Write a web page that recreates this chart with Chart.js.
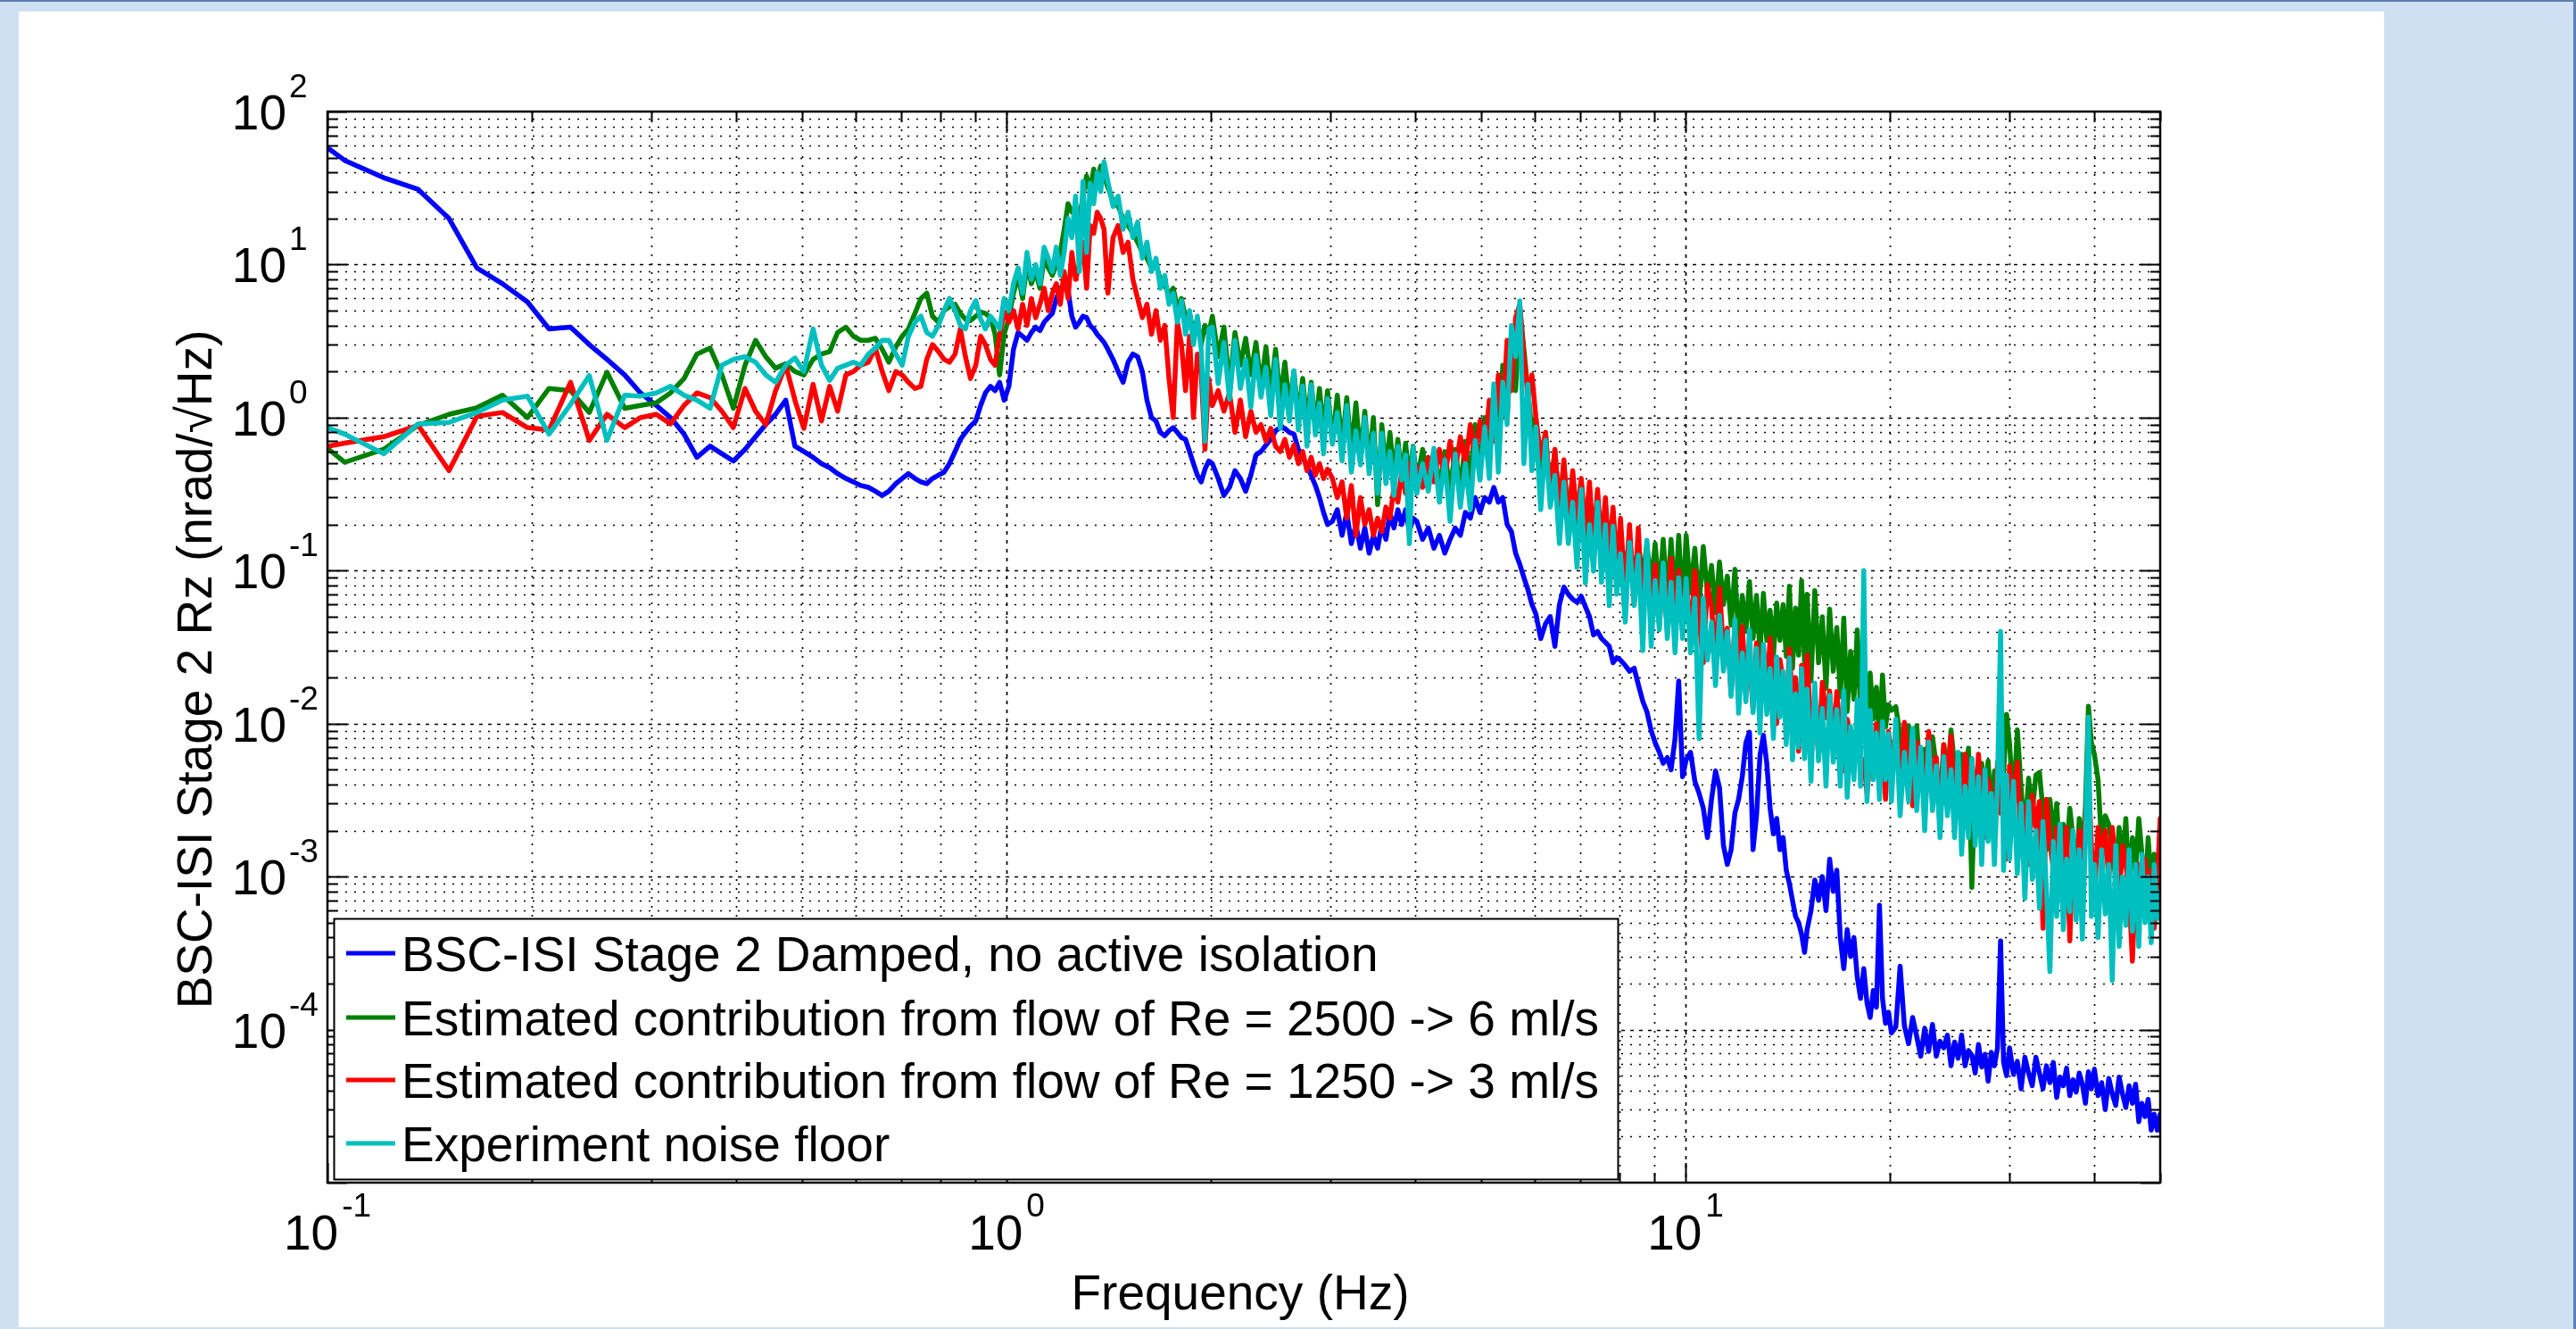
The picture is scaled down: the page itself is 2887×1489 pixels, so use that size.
<!DOCTYPE html>
<html><head><meta charset="utf-8">
<script src="https://cdn.jsdelivr.net/npm/chart.js@4.4.1/dist/chart.umd.min.js"></script>
<style>
html,body{margin:0;padding:0;}
body{width:2887px;height:1489px;background:#cfe0f2;position:relative;overflow:hidden;}
#frame{position:absolute;left:0;top:0;width:2887px;height:1489px;border-top:2px solid #5b80b4;border-right:3px solid #5b80b4;box-sizing:border-box;}
#panel{position:absolute;left:21px;top:13px;width:2651px;height:1474px;background:#fff;}
#c{position:absolute;left:0;top:0;}
</style></head><body>
<div id="frame"></div><div id="panel"></div>
<canvas id="c" width="2887" height="1489"></canvas>
<script>
// ---------------- DATA ----------------
const seriesLabels = [
  'BSC-ISI Stage 2 Damped, no active isolation',
  'Estimated contribution from flow of Re = 2500 -> 6 ml/s',
  'Estimated contribution from flow of Re = 1250 -> 3 ml/s',
  'Experiment noise floor'
];
const xTitle = 'Frequency (Hz)';
const yTitle = 'BSC-ISI Stage 2 Rz (nrad/\u221AHz)';
const xLabelExponents = [-1, 0, 1];
const yLabelExponents = [2, 1, 0, -1, -2, -3, -4];
const xLimits = [0.1, 50];
const yLimits = [1e-5, 100];

const freqLow = [0.100,0.106,0.121,0.136,0.151,0.166,0.181,0.197,0.212,0.228,
0.243,0.258,0.274,0.289,0.305,0.320,0.335,0.350,0.366,0.381,
0.396,0.412,0.427,0.442,0.457,0.473,0.488,0.503,0.519,0.534,
0.549,0.564,0.580,0.595,0.610,0.626,0.641,0.656,0.671,0.687,
0.702,0.717,0.733,0.748,0.763,0.778,0.794,0.809,0.824,0.840,
0.855,0.870,0.885,0.901,0.916,0.931,0.947,0.962,0.977,0.992];
const freqMid = [1.008,1.024,1.040,1.056,1.072,1.088,1.104,1.120,1.136,1.152,1.168,1.184,1.200,1.216,1.232,1.248,1.264,1.280,1.296,1.312,1.328,1.344,1.360,1.376,1.392,
1.410,1.435,1.460,1.485,1.510,1.535,1.560,1.585,1.610,1.635,1.660,1.685,1.710,1.735,1.760,1.785,1.810,1.835,1.860,1.885,1.910,1.935,1.960,1.985,
2.01,2.05,2.09,2.13,2.17,2.21,2.25,2.29,2.33,2.37,2.41,2.45,2.49,2.53,2.57,2.61,2.65,2.69,2.73,2.77,2.81,2.85,2.89,2.93,2.97,
3.02,3.07,3.12,3.17,3.22,3.27,3.32,3.37,3.42,3.47,3.52,3.57,3.62,3.67,3.72,3.77,3.82,3.87,3.92,3.97,
4.02,4.10,4.18,4.26,4.34,4.42,4.50,4.58,4.66,4.74,4.82,4.90,4.98,5.06,5.14,5.22,5.30,5.38,5.46,5.54,5.62,5.70,5.78,5.86,5.94,
6.02,6.12,6.22,6.32,6.42,6.52,6.62,6.72,6.82,6.92,7.02,7.12,7.22,7.32,7.42,7.52,7.62,7.72,7.82,7.92,
8.02,8.15,8.27,8.40,8.52,8.65,8.77,8.90,9.02,9.15,9.27,9.40,9.52,9.65,9.77,9.90];
const freqHigh = [10.02,10.17,10.32,10.47,10.62,10.77,10.92,11.07,11.22,11.37,11.52,11.67,11.82,11.97,12.12,12.27,12.42,12.57,12.72,12.87,13.02,13.17,13.32,13.47,13.62,13.77,13.92,14.07,14.22,14.37,14.52,14.67,14.82,14.97,
15.1,15.3,15.5,15.7,15.9,16.1,16.3,16.5,16.7,16.9,17.1,17.3,17.5,17.7,17.9,18.1,18.3,18.5,18.7,18.9,19.1,19.3,19.5,19.7,19.9,
20.1,20.4,20.7,21.0,21.3,21.6,21.9,22.2,22.5,22.8,23.1,23.4,23.7,24.0,24.3,24.6,24.9,25.2,25.5,25.8,26.1,26.4,26.7,27.0,27.3,27.6,27.9,28.2,28.5,28.8,29.1,29.4,29.7,
30.0,30.4,30.8,31.2,31.6,32.0,32.4,32.8,33.2,33.6,34.0,34.4,34.8,35.2,35.6,36.0,36.4,36.8,37.2,37.6,38.0,38.4,38.8,39.2,39.6,
40.0,40.5,41.0,41.5,42.0,42.5,43.0,43.5,44.0,44.5,45.0,45.5,46.0,46.5,47.0,47.5,48.0,48.5,49.0,49.5,50.0];

// Blue: BSC-ISI Stage 2 damped
const blueLow = [58,48,37,31,20,9.5,7.5,5.7,3.8,3.9,
3.0,2.4,1.9,1.45,1.2,1.0,0.78,0.55,0.65,0.58,
0.52,0.62,0.75,0.9,1.05,1.3,0.65,0.6,0.55,0.5,
0.47,0.43,0.4,0.38,0.36,0.35,0.33,0.31,0.33,0.37,
0.4,0.43,0.4,0.38,0.37,0.4,0.42,0.44,0.5,0.6,
0.72,0.8,0.88,0.95,1.2,1.45,1.6,1.5,1.7,1.3];
const blueMid = [1.6,2.8,3.6,3.4,3.2,3.6,3.9,3.7,4.2,4.5,4.8,6.0,7.0,7.4,6.8,4.6,3.9,4.2,4.6,4.5,4.0,3.8,3.5,3.3,3.1,
2.8,2.4,2.0,1.7,2.3,2.6,2.5,2.0,1.3,1.0,0.95,0.8,0.76,0.82,0.86,0.8,0.74,0.72,0.6,0.5,0.42,0.38,0.46,0.52,
0.5,0.4,0.31,0.35,0.45,0.4,0.33,0.42,0.57,0.6,0.66,0.72,0.82,0.86,0.85,0.8,0.78,0.62,0.55,0.48,0.42,0.36,0.3,0.24,0.2,
0.21,0.25,0.17,0.24,0.15,0.2,0.14,0.19,0.13,0.17,0.14,0.2,0.16,0.24,0.19,0.25,0.2,0.25,0.18,0.22,
0.21,0.16,0.19,0.14,0.17,0.13,0.16,0.19,0.17,0.24,0.22,0.3,0.24,0.3,0.28,0.35,0.28,0.3,0.2,0.18,0.13,0.11,0.09,0.075,0.06,
0.052,0.036,0.045,0.05,0.032,0.06,0.078,0.07,0.065,0.062,0.068,0.058,0.05,0.038,0.04,0.036,0.034,0.032,0.025,0.027,
0.026,0.024,0.022,0.023,0.018,0.014,0.012,0.009,0.0075,0.0065,0.0055,0.006,0.005,0.008,0.019,0.0045];
const blueHigh = [0.0058,0.0065,0.0042,0.0035,0.0028,0.0018,0.0032,0.0049,0.0038,0.0016,0.0012,0.0015,0.0026,0.0032,0.0045,0.0075,0.0088,0.0015,0.0025,0.0062,0.0084,0.0055,0.0028,0.0019,0.0024,0.0015,0.0018,0.0011,0.0009,0.0007,0.00055,0.0005,0.00042,0.00032,
0.00045,0.0006,0.00095,0.0007,0.001,0.0006,0.0013,0.0008,0.0011,0.0004,0.00025,0.00045,0.0003,0.0004,0.00022,0.00016,0.00025,0.00015,0.00012,0.00018,0.00014,0.00065,0.00016,0.00011,0.00013,
0.000095,0.000104,0.00026,0.000106,0.000081,0.00012,0.00009,0.000067,0.000102,0.000072,0.000108,0.000067,0.000084,0.000076,0.000092,0.000058,0.000083,0.000065,0.000092,0.000058,0.000073,0.000068,0.000052,0.00008,0.000057,0.000069,0.000046,0.000071,0.000058,0.000076,0.00038,0.000061,0.00005,
0.000076,0.000051,0.000062,0.000041,0.000066,0.000052,0.000043,0.000066,0.000052,0.000041,0.000058,0.000045,0.000061,0.000036,0.000049,0.000043,0.000056,0.000037,0.000047,0.000039,0.000052,0.000044,0.000033,0.000053,0.000041,
0.000055,0.000037,0.000045,0.00003,0.000048,0.000038,0.000032,0.000049,0.000038,0.000031,0.000043,0.000033,0.000044,0.000025,0.000033,0.000027,0.000035,0.000022,0.000028,0.000022,0.000028];

// Green: Re = 2500
const greenLow = [0.63,0.51,0.62,0.89,1.05,1.16,1.4,1.0,1.55,1.5,
1.08,1.98,1.15,1.2,1.25,1.45,1.8,2.6,2.85,1.9,
1.15,2.2,3.2,2.5,2.1,2.25,2.0,1.9,2.4,2.6,
2.7,3.6,3.9,3.4,3.2,3.2,3.3,2.8,2.3,2.9,
3.4,3.8,4.8,6.0,6.5,4.6,4.2,5.0,5.3,5.5,
4.8,4.4,4.3,4.6,4.9,4.8,4.5,3.5,1.9,3.5];
const greenMid = [4.5,6.5,8.5,6.0,10,7.5,9.0,7.0,11,9.5,8.5,10,12,17,25,22,23,20,28,38,30,42,36,44,38,
32,26,24,20,18,16,14,12,11,9.5,10,8,7.2,6.5,7.0,5.2,6.0,4.5,4.8,3.6,4.4,3.0,4.0,3.5,
4.6,2.5,3.9,1.6,3.6,2.2,3.3,1.9,3.1,1.6,2.9,1.4,2.8,1.3,2.3,1.2,2.0,1.0,1.8,0.9,1.7,0.85,1.55,0.8,1.5,
0.7,1.4,0.65,1.35,0.6,1.25,0.55,1.1,0.5,1.0,0.27,0.9,0.45,0.8,0.42,0.72,0.4,0.68,0.38,0.65,
0.38,0.62,0.36,0.6,0.35,0.6,0.33,0.62,0.34,0.7,0.4,0.9,0.45,1.0,0.5,1.4,0.6,2.2,1.0,3.4,1.5,5.2,2.8,1.5,0.8,
1.0,0.4,0.8,0.3,0.62,0.25,0.5,0.2,0.42,0.18,0.38,0.16,0.33,0.14,0.3,0.13,0.27,0.12,0.24,0.11,
0.17,0.1,0.16,0.09,0.15,0.085,0.15,0.08,0.15,0.07,0.16,0.065,0.16,0.06,0.17,0.055];
const greenHigh = [0.17,0.0715,0.14,0.059,0.144,0.07,0.108,0.053,0.114,0.06,0.092,0.044,0.102,0.036,0.069,0.04,0.085,0.036,0.069,0.029,0.071,0.035,0.055,0.0275,0.0615,0.035,0.06,0.0275,0.079,0.023,0.057,0.028,0.086,0.025,
0.07,0.019,0.074,0.025,0.05,0.017,0.056,0.022,0.0425,0.015,0.049,0.012,0.0297,0.0144,0.041,0.0119,0.0179,0.0091,0.0214,0.0107,0.0173,0.008,0.0208,0.0095,0.0133,
0.0122,0.0129,0.0083,0.0053,0.0097,0.0059,0.0097,0.004,0.0068,0.0045,0.0082,0.0053,0.003,0.0073,0.0043,0.0091,0.0053,0.0032,0.0063,0.0043,0.0069,0.00085,0.0046,0.0029,0.0055,0.0034,0.0057,0.0024,0.0049,0.0031,0.0085,0.0047,0.0115,
0.0074,0.0029,0.0091,0.0038,0.0018,0.0044,0.0026,0.0046,0.0048,0.0027,0.0015,0.0032,0.0018,0.003,0.0012,0.0022,0.0014,0.0028,0.0018,0.00098,0.0024,0.0014,0.0028,0.013,0.0075,
0.0063,0.0043,0.0016,0.0025,0.0022,0.0015,0.00096,0.0021,0.0012,0.0024,0.00082,0.0018,0.0011,0.0024,0.0014,0.00068,0.0018,0.0009,0.0014,0.00087,0.0009];

// Red: Re = 1250
const redLow = [0.65,0.68,0.75,0.89,0.45,1.02,1.08,0.86,0.83,1.7,
0.71,1.05,0.86,1.0,1.05,0.91,1.2,1.45,1.35,1.1,
0.86,1.55,1.1,0.9,1.5,2.2,1.3,0.85,1.65,0.95,
1.6,1.1,1.9,2.0,2.2,2.3,2.85,2.0,1.5,2.0,
1.9,1.7,1.55,1.6,2.4,3.0,2.7,2.4,2.3,2.6,
3.8,2.5,1.8,2.2,3.4,3.0,2.4,2.2,3.5,4.9];
const redMid = [4.2,5.0,3.8,5.5,4.0,6.0,4.5,5.5,7.0,5.0,6.5,7.5,5.5,9.0,6.0,12,8.0,10,14,7,18,16,22,20,17,
6.5,15,18,12,14,8,6,4.5,5.5,3.5,5.0,3.2,4.0,1.8,1.0,4.2,3.0,1.5,3.4,1.0,2.6,2.0,0.62,1.8,
1.2,1.5,1.1,1.45,0.8,1.3,0.75,1.1,0.8,0.9,0.7,0.85,0.65,0.6,0.72,0.55,0.66,0.5,0.6,0.45,0.55,0.42,0.5,0.4,0.46,
0.4,0.3,0.38,0.22,0.36,0.17,0.3,0.2,0.25,0.17,0.22,0.18,0.26,0.22,0.35,0.28,0.45,0.32,0.5,0.38,
0.48,0.35,0.55,0.38,0.62,0.4,0.7,0.45,0.75,0.5,0.9,0.55,0.95,0.6,1.3,0.7,1.9,1.0,3.2,1.5,4.5,5.5,2.5,1.4,1.9,
1.0,0.55,0.8,0.3,0.62,0.25,0.53,0.19,0.45,0.22,0.4,0.18,0.38,0.15,0.34,0.14,0.3,0.12,0.26,0.1,
0.22,0.07,0.2,0.06,0.19,0.05,0.12,0.05,0.11,0.045,0.1,0.04,0.12,0.035,0.1,0.04];
const redHigh = [0.087,0.037,0.1,0.047,0.025,0.081,0.058,0.026,0.077,0.03,0.042,0.0155,0.042,0.0237,0.043,0.0172,0.0264,0.0125,0.0337,0.0212,0.0327,0.0147,0.036,0.018,0.01,0.0262,0.0191,0.0104,0.0307,0.0132,0.02,0.0066,0.024,0.0126,
0.028,0.0087,0.0148,0.006,0.0186,0.0109,0.0163,0.0072,0.0162,0.0083,0.0049,0.0107,0.008,0.0049,0.0104,0.0055,0.0058,0.0035,0.0058,0.0052,0.01,0.0042,0.0066,0.0032,0.0089,
0.0057,0.0088,0.004,0.0102,0.0051,0.0029,0.0076,0.0056,0.0031,0.0089,0.004,0.006,0.0021,0.0073,0.0039,0.0083,0.0028,0.0047,0.002,0.0063,0.0038,0.0059,0.0026,0.0063,0.0032,0.0018,0.0043,0.0033,0.0019,0.0056,0.0026,0.0041,0.0013,
0.0053,0.0026,0.0056,0.0017,0.0029,0.0012,0.0034,0.0021,0.0031,0.00046,0.0032,0.0017,0.0011,0.0021,0.0016,0.0011,0.0021,0.00038,0.0015,0.00079,0.002,0.0013,0.0024,0.0045,0.0016,
0.00075,0.0021,0.0013,0.002,0.00096,0.0021,0.0012,0.00072,0.0016,0.0012,0.00078,0.00028,0.00092,0.0012,0.0006,0.0013,0.00063,0.0011,0.00046,0.00091,0.0024];

// Cyan: experiment noise floor
const cyanLow = [0.86,0.78,0.58,0.91,0.93,1.08,1.3,1.38,0.78,1.22,
1.88,0.71,1.4,1.38,1.45,1.6,1.4,1.3,1.15,2.2,
2.4,2.5,2.3,1.9,1.7,2.2,2.45,2.0,3.8,2.2,
1.75,2.1,2.2,2.3,2.2,2.6,2.85,3.2,3.2,2.6,
2.2,3.4,4.2,4.6,3.6,3.4,4.0,5.0,6.0,5.0,
4.0,3.8,5.0,5.8,4.4,3.8,4.6,4.2,3.8,6.0];
const cyanMid = [5.0,7.5,9.5,6.5,12,8.0,10,7.5,13,11,9,13,8.5,12,20,15,28,9,35,12,34,25,40,30,47,
35,24,28,17,22,15,19,11,14,9,11,7,8.5,5.5,6.5,4.2,5.8,3.5,5.0,3.0,4.6,2.8,0.7,3.8,
3.9,1.67,3.1,1.32,3.2,1.55,2.4,1.17,2.55,1.36,2.13,1.03,2.4,0.85,1.64,0.95,2.03,0.83,1.61,0.65,1.64,0.77,1.24,0.58,1.33,
0.67,1.08,0.52,1.2,0.44,0.82,0.49,1.0,0.43,0.79,0.32,0.79,0.37,0.6,0.31,0.65,0.39,0.57,0.15,0.64,
0.32,0.5,0.33,0.63,0.28,0.53,0.21,0.58,0.26,0.5,0.25,0.71,0.39,0.87,0.4,1.66,0.44,1.7,0.9,4.0,2.5,5.8,0.5,1.65,0.45,
0.87,0.25,0.71,0.26,0.42,0.15,0.38,0.15,0.28,0.105,0.34,0.083,0.2,0.099,0.28,0.084,0.2,0.059,0.195,0.07,
0.129,0.046,0.153,0.059,0.126,0.03,0.158,0.032,0.086,0.041,0.112,0.036,0.084,0.029,0.09,0.036];
const cyanHigh = [0.089,0.029,0.066,0.008,0.066,0.026,0.046,0.0177,0.051,0.022,0.04,0.0151,0.048,0.0117,0.029,0.0139,0.041,0.0118,0.031,0.0087,0.033,0.0115,0.0229,0.008,0.0273,0.011,0.022,0.0073,0.0269,0.0058,0.0156,0.007,0.0229,0.0059,
0.0168,0.0042,0.0184,0.0057,0.0126,0.0039,0.0153,0.0056,0.0124,0.0039,0.0164,0.0033,0.0096,0.0043,0.0143,0.0039,0.1,0.0031,0.0122,0.0043,0.0087,0.0032,0.0103,0.0043,0.0086,
0.0031,0.0107,0.0025,0.0065,0.0031,0.0093,0.0027,0.007,0.002,0.0076,0.0027,0.0053,0.0018,0.0061,0.0025,0.005,0.0018,0.0065,0.0014,0.0039,0.0018,0.0059,0.0016,0.0045,0.0012,0.005,0.0017,0.0035,0.0012,0.0042,0.04,0.0011,0.0046,
0.0013,0.0042,0.00105,0.003,0.00072,0.0031,0.00096,0.002,0.00062,0.0023,0.00081,0.00024,0.0017,0.00055,0.0022,0.00045,0.0013,0.00059,0.002,0.00052,0.0015,0.00039,0.0017,0.011,0.00055,
0.0012,0.0004,0.0015,0.00057,0.0012,0.00021,0.0016,0.00035,0.001,0.00048,0.0015,0.00044,0.0012,0.00035,0.0014,0.0005,0.001,0.00037,0.0012,0.00053,0.0008];

// ---------------- BUILD ----------------
function pairs(fr, vals, name) {
  if (fr.length !== vals.length) throw new Error('length mismatch ' + name + ': ' + fr.length + ' vs ' + vals.length);
  return fr.map((f, i) => ({x: f, y: vals[i]}));
}
const pts = (lo, mid, hi, name) =>
  pairs(freqLow, lo, name + 'Low').concat(pairs(freqMid, mid, name + 'Mid'), pairs(freqHigh, hi, name + 'High'));

const FONT = '"Liberation Sans", Arial, Helvetica, sans-serif';
const colors = ['rgb(0,0,255)', 'rgb(0,128,0)', 'rgb(255,0,0)', 'rgb(0,191,191)'];

function logTicks(min, max) {
  const out = [];
  for (let e = Math.floor(Math.log10(min)); e <= Math.ceil(Math.log10(max)); e++) {
    for (let m = 1; m <= 9; m++) {
      const v = m * Math.pow(10, e);
      if (v >= min * 0.999 && v <= max * 1.001) out.push({v: v, major: m === 1});
    }
  }
  return out;
}
const xTicks = logTicks(xLimits[0], xLimits[1]);
const yTicks = logTicks(yLimits[0], yLimits[1]);

const matlabAxes = {
  id: 'matlabAxes',
  beforeDatasetsDraw(chart) {
    const {ctx, chartArea: a, scales: {x, y}} = chart;
    ctx.save();
    ctx.strokeStyle = '#000';
    ctx.lineWidth = 1.7;
    xTicks.forEach(t => {
      const px = Math.round(x.getPixelForValue(t.v)) + 0.5;
      if (px <= a.left + 3 || px >= a.right - 3) return;
      ctx.setLineDash(t.major ? [4, 6] : [2, 8]);
      ctx.beginPath(); ctx.moveTo(px, a.top); ctx.lineTo(px, a.bottom); ctx.stroke();
    });
    yTicks.forEach(t => {
      const py = Math.round(y.getPixelForValue(t.v)) + 0.5;
      if (py <= a.top + 3 || py >= a.bottom - 3) return;
      ctx.setLineDash(t.major ? [4, 6] : [2, 8]);
      ctx.beginPath(); ctx.moveTo(a.left, py); ctx.lineTo(a.right, py); ctx.stroke();
    });
    ctx.restore();
  },
  afterDatasetsDraw(chart) {
    const {ctx, chartArea: a, scales: {x, y}} = chart;
    ctx.save();
    ctx.setLineDash([]);
    ctx.strokeStyle = '#000';
    ctx.lineWidth = 2;
    xTicks.forEach(t => {
      const px = Math.round(x.getPixelForValue(t.v)) + 0.5;
      const len = t.major ? 22 : 11;
      ctx.beginPath();
      ctx.moveTo(px, a.bottom); ctx.lineTo(px, a.bottom - len);
      ctx.moveTo(px, a.top); ctx.lineTo(px, a.top + len);
      ctx.stroke();
    });
    yTicks.forEach(t => {
      const py = Math.round(y.getPixelForValue(t.v)) + 0.5;
      const len = t.major ? 22 : 11;
      ctx.beginPath();
      ctx.moveTo(a.left, py); ctx.lineTo(a.left + len, py);
      ctx.moveTo(a.right, py); ctx.lineTo(a.right - len, py);
      ctx.stroke();
    });
    ctx.lineWidth = 2.5;
    ctx.strokeRect(a.left, a.top, a.right - a.left, a.bottom - a.top);

    ctx.fillStyle = '#000';
    const baseFont = '55px ' + FONT, supFont = '37px ' + FONT;
    ctx.textBaseline = 'alphabetic';
    yLabelExponents.forEach(e => {
      const py = y.getPixelForValue(Math.pow(10, e));
      ctx.font = baseFont; ctx.textAlign = 'right';
      ctx.fillText('10', 321, py + 20);
      ctx.font = supFont; ctx.textAlign = 'left';
      ctx.fillText(String(e), 324, py - 16);
    });
    xLabelExponents.forEach(e => {
      const px = x.getPixelForValue(Math.pow(10, e));
      ctx.font = baseFont; const w1 = ctx.measureText('10').width;
      ctx.font = supFont; const w2 = ctx.measureText(String(e)).width;
      const gap = 4, start = px - (w1 + gap + w2) / 2;
      ctx.textAlign = 'left';
      ctx.font = baseFont; ctx.fillText('10', start, 1400);
      ctx.font = supFont; ctx.fillText(String(e), start + w1 + gap, 1363);
    });
    ctx.font = '55px ' + FONT;
    ctx.textAlign = 'center';
    ctx.fillText(xTitle, (a.left + a.right) / 2 - 4, 1467);
    ctx.save();
    ctx.translate(237, 750);
    ctx.rotate(-Math.PI / 2);
    ctx.fillText(yTitle, 0, 0);
    ctx.restore();

    const L = {left: 374, top: 1029, right: 1813, bottom: 1321, rows: [1068, 1140, 1210, 1281], x0: 388, x1: 443, tx: 450};
    ctx.fillStyle = '#fff';
    ctx.fillRect(L.left, L.top, L.right - L.left, L.bottom - L.top);
    ctx.lineWidth = 2;
    ctx.strokeStyle = '#000';
    ctx.strokeRect(L.left + 0.5, L.top + 0.5, L.right - L.left, L.bottom - L.top);
    ctx.font = '55px ' + FONT;
    ctx.textAlign = 'left';
    chart.data.datasets.forEach((ds, i) => {
      const ry = L.rows[i];
      ctx.strokeStyle = ds.borderColor;
      ctx.lineWidth = 5;
      ctx.beginPath(); ctx.moveTo(L.x0, ry); ctx.lineTo(L.x1, ry); ctx.stroke();
      ctx.fillStyle = '#000';
      ctx.fillText(ds.label, L.tx, ry + 20);
    });
    ctx.restore();
  }
};

const mk = (label, color, data, order) => ({
  label: label, data: data, borderColor: color, backgroundColor: color,
  borderWidth: 5.5, pointRadius: 0, tension: 0, fill: false, order: order,
  borderJoinStyle: 'round', borderCapStyle: 'round'
});

new Chart(document.getElementById('c'), {
  type: 'line',
  data: {
    datasets: [
      mk(seriesLabels[0], colors[0], pts(blueLow, blueMid, blueHigh, 'blue'), 3),
      mk(seriesLabels[1], colors[1], pts(greenLow, greenMid, greenHigh, 'green'), 2),
      mk(seriesLabels[2], colors[2], pts(redLow, redMid, redHigh, 'red'), 1),
      mk(seriesLabels[3], colors[3], pts(cyanLow, cyanMid, cyanHigh, 'cyan'), 0)
    ]
  },
  options: {
    responsive: false,
    animation: false,
    devicePixelRatio: 1,
    layout: {padding: {left: 367, top: 125, right: 2887 - 2421, bottom: 1489 - 1325}},
    scales: {
      x: {type: 'logarithmic', min: xLimits[0], max: xLimits[1], display: false},
      y: {type: 'logarithmic', min: yLimits[0], max: yLimits[1], display: false}
    },
    plugins: {legend: {display: false}, tooltip: {enabled: false}},
    events: []
  },
  plugins: [matlabAxes]
});
</script></body></html>
